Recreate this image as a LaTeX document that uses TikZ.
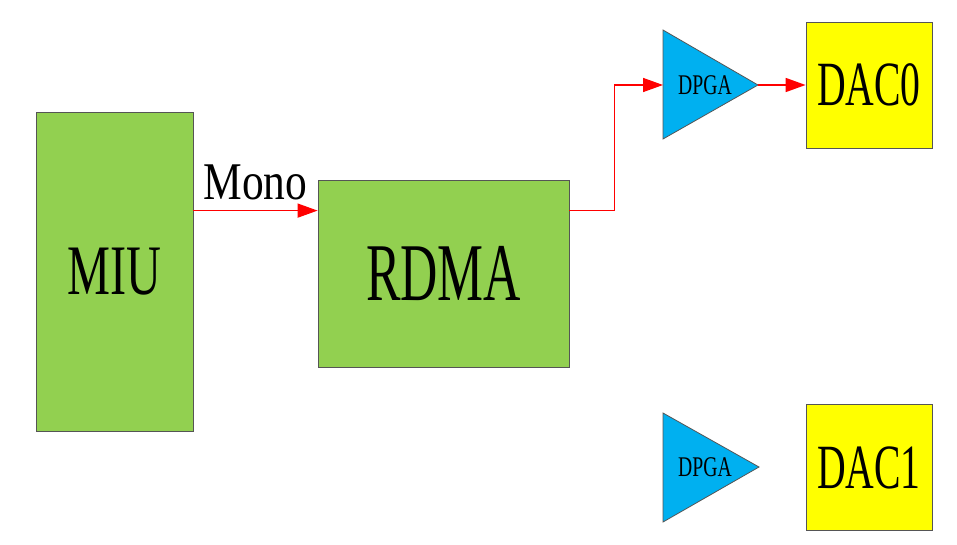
\documentclass[tikz,border=0pt]{standalone}
\usepackage{graphicx}
\usepackage{fontspec}
\setmainfont{Liberation Serif}
\usetikzlibrary{arrows.meta}
\definecolor{boxgreen}{HTML}{92D050}
\definecolor{ampblue}{HTML}{00B0F0}
\definecolor{dacyellow}{HTML}{FFFF00}
\definecolor{edge}{HTML}{555555}
\newcommand{\lbl}[3]{\scalebox{#1}[1]{\fontsize{#2pt}{#2pt}\selectfont #3}}
\tikzset{
  blk/.style={draw=edge, line width=0.8pt, fill=boxgreen, inner sep=0pt},
  dacbox/.style={draw=edge, line width=0.8pt, fill=dacyellow, inner sep=0pt, minimum width=126pt, minimum height=126pt},
  amp/.style={draw=edge, line width=0.8pt, fill=ampblue},
  sig/.style={draw=red, line width=1.5pt, -{Triangle[length=20pt,width=14pt]}},
  lab/.style={inner sep=0pt}
}
\begin{document}
\begin{tikzpicture}[x=1pt,y=-1pt]
\useasboundingbox (0,0) rectangle (957,545);
% blocks
\node[blk, minimum width=157pt, minimum height=319pt] (miu) at (114.5,271.5) {\lbl{0.68}{71}{MIU}};
\node[blk, minimum width=251pt, minimum height=187pt] (rdma) at (443.5,273.5) {\lbl{0.63}{82}{RDMA}};
\node[dacbox] (dac0) at (869,85) {\lbl{0.63}{63}{DAC0}};
\node[dacbox] (dac1) at (869,467.5) {\lbl{0.63}{63}{DAC1}};
% amplifiers
\coordinate (a1w) at (663,85);
\coordinate (a1e) at (758,85);
\coordinate (a2w) at (663,467);
\coordinate (a2e) at (759,467);
\draw[amp] (663,30) -- (a1e) -- (663,139) -- cycle;
\draw[amp] (663,413) -- (a2e) -- (663,522) -- cycle;
\node[lab] (dpga1) at (705,85) {\lbl{0.69}{28.5}{DPGA}};
\node[lab] (dpga2) at (705,467) {\lbl{0.69}{28.5}{DPGA}};
% connectors
\draw[sig] ([yshift=-99pt]miu.north east) -- node[lab, anchor=base, yshift=11pt] (mono) {\lbl{0.82}{53}{Mono}} ([yshift=-31pt]rdma.north west);
\draw[sig] ([yshift=-31pt]rdma.north east) -- ++(45,0) |- (a1w);
\draw[sig] (a1e) -- (dac0.west);
\end{tikzpicture}
\end{document}
